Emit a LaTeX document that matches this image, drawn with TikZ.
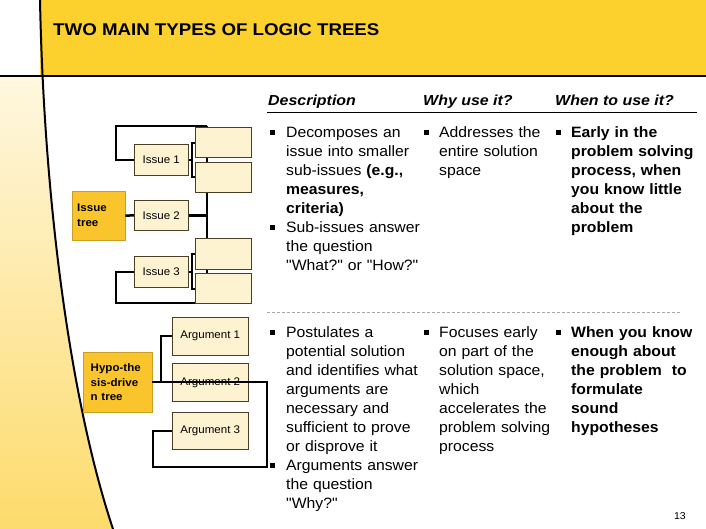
\documentclass[tikz,border=0pt]{standalone}
\usepackage{fontspec}
\setmainfont{Liberation Sans}[FakeStretch=1.05, Ligatures=TeXOff]
\newfontfamily\widefont{Liberation Sans}[FakeStretch=1.1]
\definecolor{hdryellow}{HTML}{FCD12E}
\definecolor{goldbox}{HTML}{FAC52C}
\definecolor{creambox}{HTML}{FEF3D1}
\definecolor{boxline}{HTML}{4A3E26}
\definecolor{gradtop}{HTML}{FFFCF3}
\definecolor{gradbot}{HTML}{FDDB6C}
\begin{document}
\begin{tikzpicture}[x=1pt,y=-1pt,
  cream/.style={draw=boxline, line width=0.6pt, fill=creambox, anchor=north west, inner sep=0pt,
                font=\fontsize{11}{13}\selectfont},
  goldnode/.style={draw=goldbox!80!black, line width=0.4pt, fill=goldbox, anchor=north west,
                inner xsep=5pt, inner ysep=0pt, align=left, font=\bfseries\fontsize{11}{15}\selectfont},
  conn/.style={line width=2.5pt},
  connb/.style={line width=2pt},
  hdr/.style={anchor=base west, inner sep=0pt, font=\widefont\bfseries\itshape\fontsize{14.5}{17}\selectfont},
  body/.style={anchor=base west, inner sep=0pt, text width=150pt, align=left, font=\fontsize{15}{19}\selectfont},
  bodyb/.style={body, font=\bfseries\fontsize{15}{19}\selectfont},
  bul/.style={fill=black, minimum size=5pt, inner sep=0pt}
]
\useasboundingbox (0,0) rectangle (706,529);
\fill[white] (0,0) rectangle (706,529);
% left gradient
\begin{scope}
  \clip (0,76) rectangle (130,529);
  \shade[top color=gradtop, bottom color=gradbot]
    (0,0) -- (40,0) .. controls (44,200) and (70,400) .. (113,529) -- (0,529) -- cycle;
\end{scope}
% header
\fill[hdryellow] (40,0) rectangle (706,76);
\draw[line width=2pt] (40,0) .. controls (44,200) and (70,400) .. (113,529);
\draw[line width=1.6pt] (0,76) -- (706,76);
\node[anchor=base west, inner sep=0pt, font=\widefont\bfseries\fontsize{17}{20}\selectfont] (title) at (53,36) {TWO MAIN TYPES OF LOGIC TREES};

% column headers
\node[hdr] (h1) at (268,106) {Description};
\node[hdr] (h2) at (423,106) {Why use it?};
\node[hdr] (h3) at (555,106) {When to use it?};
\draw[line width=1pt] (267,113) -- (697,113);
\draw[gray!70, line width=0.6pt, dash pattern=on 3pt off 2pt] (267,312) -- (681,312);

% ---------- Issue tree ----------
\coordinate (bt) at (207,126);
\coordinate (bb) at (207,303);
\coordinate (lt) at (116,126);
\coordinate (lb) at (116,303);
\draw[conn] (bt) -- (bb);
\node[goldnode, minimum width=53pt, minimum height=49pt, text width=43pt] (it) at (72,191) {Issue\\tree};
\node[cream, minimum width=54pt, minimum height=31pt] (i1) at (134,144) {Issue 1};
\node[cream, minimum width=54pt, minimum height=30pt] (i2) at (134,200) {Issue 2};
\node[cream, minimum width=54pt, minimum height=31pt] (i3) at (134,256) {Issue 3};
\draw[conn] (i1.west) -| (lt) -- (bt);
\draw[conn] (i3.west) -| (lb) -- (bb);
\draw[conn] (i2.east) -- (i2.east -| bt);
\draw[conn] (it.east) -- (i2.west);
\node[cream, minimum width=56pt, minimum height=30pt] (sa) at (195,127) {};
\node[cream, minimum width=56pt, minimum height=30pt] (sb) at (195,162) {};
\node[cream, minimum width=56pt, minimum height=31pt] (sc) at (195,238) {};
\node[cream, minimum width=56pt, minimum height=30pt] (sd) at (195,273) {};
\coordinate (k1) at (192,143);
\coordinate (k2) at (192,177);
\coordinate (k3) at (192,254);
\coordinate (k4) at (192,289);
\draw[connb] (sa.west |- k1) -- (k1) -- (k2) -- (sb.west |- k2);
\draw[connb] (i1.east) -- (i1.east -| k1);
\draw[connb] (sc.west |- k3) -- (k3) -- (k4) -- (sd.west |- k4);
\draw[connb] (i3.east) -- (i3.east -| k3);

% ---------- Hypothesis-driven tree ----------
\node[goldnode, minimum width=69pt, minimum height=60pt, inner xsep=7.5pt, text width=54pt,
      font=\bfseries\fontsize{11}{14.5}\selectfont] (hyp) at (83,352) {Hypo-the\\sis-drive\\n tree};
\node[cream, minimum width=76pt, minimum height=38pt] (a1) at (172,317) {Argument 1};
\node[cream, minimum width=76pt, minimum height=38pt] (a2) at (172,363) {Argument 2};
\node[cream, minimum width=76pt, minimum height=37pt] (a3) at (172,412) {Argument 3};
\coordinate (hb) at (267,467);
\coordinate (hl) at (153,467);
\coordinate (hj) at (161,382);
\draw[connb] (hyp.east) -| (hb) -- (hl) |- (a3.west);
\draw[connb] (hj) |- (a1.west);

% ---------- Text columns: issue tree ----------
\node[bul] (b11) at (272,133) {};
\node[bul] (b12) at (272,228) {};
\node[body] (d1) at (286,138) {Decomposes an\\issue into smaller\\sub-issues \textbf{(e.g.,}\\\textbf{measures,}\\\textbf{criteria)}\\Sub-issues answer\\the question\\"What?" or "How?"};
\node[bul] (b21) at (426,133) {};
\node[body] (w1) at (439,138) {Addresses the\\entire solution\\space};
\node[bul] (b31) at (558,133) {};
\node[bodyb] (t1) at (571,138) {Early in the\\problem solving\\process, when\\you know little\\about the\\problem};

% ---------- Text columns: hypothesis tree ----------
\node[bul] (b13) at (272,332) {};
\node[bul] (b14) at (272,465) {};
\node[body] (d2) at (286,337) {Postulates a\\potential solution\\and identifies what\\arguments are\\necessary and\\sufficient to prove\\or disprove it\\Arguments answer\\the question\\"Why?"};
\node[bul] (b22) at (426,332) {};
\node[body] (w2) at (439,337) {Focuses early\\on part of the\\solution space,\\which\\accelerates the\\problem solving\\process};
\node[bul] (b32) at (558,332) {};
\node[bodyb] (t2) at (571,337) {When you know\\enough about\\the problem~ to\\formulate\\sound\\hypotheses};

\node[anchor=base east, inner sep=0pt, font=\fontsize{10}{12}\selectfont] (pg) at (686,519) {13};
\end{tikzpicture}
\end{document}
